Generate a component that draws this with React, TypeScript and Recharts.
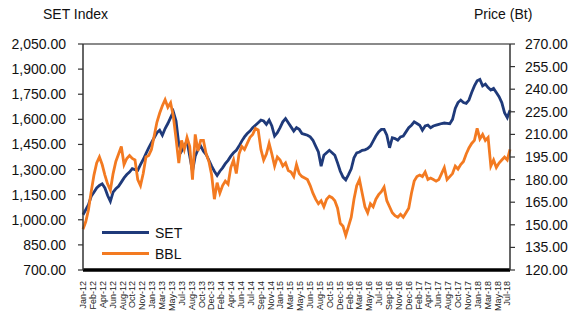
import { LineChart, Line, XAxis, YAxis, ReferenceLine } from 'recharts';

// half-monthly readings, Jan-12 .. Jul-18
const setIndex = [
  1030, 1060, 1090, 1140, 1165, 1190, 1205, 1215, 1190, 1145,
  1110, 1165, 1185, 1200, 1225, 1250, 1270, 1285, 1305, 1300,
  1295, 1330, 1360, 1395, 1430, 1460, 1490, 1520, 1535, 1505,
  1545, 1575, 1610, 1645, 1590, 1450, 1410, 1440, 1470, 1380,
  1290, 1380, 1420, 1440, 1410, 1390, 1355, 1320, 1290, 1265,
  1290, 1310, 1335, 1355, 1380, 1400, 1415, 1440, 1470, 1495,
  1515, 1530, 1550, 1565, 1580, 1595, 1590, 1570, 1595, 1560,
  1500, 1520, 1550, 1585, 1605, 1580, 1555, 1530, 1550, 1540,
  1515, 1510, 1505, 1495, 1475, 1440, 1405, 1320, 1385, 1400,
  1415, 1400, 1385, 1340, 1290, 1255, 1238, 1270, 1305, 1370,
  1400, 1405, 1415, 1418, 1425, 1440, 1470, 1500, 1525, 1540,
  1540, 1505, 1430, 1490, 1485, 1475, 1495, 1500, 1525, 1550,
  1565, 1585, 1575, 1565, 1535, 1560, 1565, 1550, 1560, 1565,
  1570, 1575, 1578, 1576, 1574, 1600, 1665, 1700, 1715, 1700,
  1695, 1715, 1760, 1800, 1830, 1838, 1800, 1810, 1790, 1775,
  1785, 1760, 1735, 1700, 1640, 1610, 1655,
];

const bblPrice = [
  147, 152, 160, 172, 183, 191, 195, 190, 183, 177,
  173, 184, 192, 197, 202, 190, 194, 196, 194, 193,
  180, 176, 184, 195, 196, 200, 209, 218, 224, 229,
  233, 228, 231, 222, 207, 191, 206, 200, 208, 202,
  180, 210, 199, 206, 206, 197, 192, 183, 167, 178,
  171, 176, 179, 177, 188, 193, 184, 197, 202, 200,
  204, 208, 210, 214, 213, 200, 193, 197, 204, 197,
  189, 195, 193, 189, 191, 186, 185, 182, 190, 184,
  182, 181, 180, 176, 171, 167, 164, 166, 162, 167,
  169, 168, 166, 161, 151, 149, 143, 149, 155, 167,
  176, 180, 171, 162, 158, 164, 162, 167, 170, 172,
  175, 166, 162, 158, 156, 155, 157, 155, 158, 161,
  171, 179, 182, 183, 182, 185, 180, 181, 180, 179,
  180, 184, 188, 180, 182, 184, 189, 187, 190, 192,
  197, 201, 204, 206, 214, 207, 210, 206, 208, 189,
  193, 188, 191, 193, 195, 193, 200,
];

const monthLabels = [
  'Jan-12', 'Feb-12', 'Apr-12', 'Jun-12', 'Aug-12', 'Oct-12', 'Nov-12',
  'Jan-13', 'Mar-13', 'May-13', 'Jul-13', 'Aug-13', 'Oct-13', 'Dec-13',
  'Feb-14', 'Apr-14', 'Jun-14', 'Jul-14', 'Sep-14', 'Nov-14',
  'Jan-15', 'Mar-15', 'May-15', 'Jun-15', 'Aug-15', 'Oct-15', 'Dec-15',
  'Feb-16', 'Mar-16', 'May-16', 'Jul-16', 'Sep-16', 'Nov-16', 'Dec-16',
  'Feb-17', 'Apr-17', 'Jun-17', 'Aug-17', 'Oct-17', 'Nov-17',
  'Jan-18', 'Mar-18', 'May-18', 'Jul-18',
];

const setTicks = [700, 850, 1000, 1150, 1300, 1450, 1600, 1750, 1900, 2050];
const priceTicks = [120, 135, 150, 165, 180, 195, 210, 225, 240, 255, 270];

const FONT = '"Liberation Sans", Arial, sans-serif';
const SET_COLOR = '#1f3a7a';
const BBL_COLOR = '#f37a21';

const data = setIndex.map((v, i) => ({ i, set: v, bbl: bblPrice[i] }));
const lastIdx = data.length - 1;
const labelSpan = lastIdx - 1;
const xTicks = monthLabels.map((_, k) => (k * labelSpan) / (monthLabels.length - 1));

const fmt = (v: number) =>
  v.toLocaleString('en-US', { minimumFractionDigits: 2, maximumFractionDigits: 2 });

function MonthTick(props: any) {
  const { x, y, payload } = props;
  const k = Math.round((payload.value * (monthLabels.length - 1)) / labelSpan);
  return (
    <g transform={`translate(${x},${y + 3})`}>
      <text transform="rotate(-90)" textAnchor="end" dy="0.35em" fontSize={9} fill="#222" fontFamily={FONT}>
        {monthLabels[k]}
      </text>
    </g>
  );
}

function LegendBox() {
  const items = [
    { name: 'SET', color: SET_COLOR },
    { name: 'BBL', color: BBL_COLOR },
  ];
  return (
    <div style={{ position: 'absolute', left: 102, top: 222, fontFamily: FONT, fontSize: 14, color: '#111' }}>
      {items.map((it) => (
        <div key={it.name} style={{ display: 'flex', alignItems: 'center', height: 21 }}>
          <span style={{ display: 'inline-block', width: 47, height: 3, background: it.color, marginRight: 6 }} />
          <span>{it.name}</span>
        </div>
      ))}
    </div>
  );
}

export default function App() {
  return (
    <div style={{ position: 'absolute', left: 0, top: 0, width: 568, height: 311, background: '#fff' }}>
      <div style={{ position: 'absolute', left: 43, top: 6, fontFamily: FONT, fontSize: 14, color: '#111' }}>SET Index</div>
      <div style={{ position: 'absolute', left: 474, top: 6, fontFamily: FONT, fontSize: 14, color: '#111' }}>Price (Bt)</div>
      <LineChart width={568} height={311} data={data} margin={{ top: 44, right: 0, bottom: 0, left: 0 }}>
        <XAxis
          dataKey="i"
          type="number"
          domain={[0, lastIdx]}
          ticks={xTicks}
          interval={0}
          height={41}
          tickLine={false}
          axisLine={{ stroke: '#000', strokeWidth: 3.5 }}
          tick={<MonthTick />}
        />
        <YAxis
          yAxisId="left"
          width={83}
          domain={[700, 2050]}
          ticks={setTicks}
          interval={0}
          tickFormatter={fmt}
          tickSize={5}
          tickMargin={12}
          axisLine={{ stroke: '#333', strokeWidth: 1.5 }}
          tickLine={{ stroke: '#333', strokeWidth: 1.2 }}
          tick={{ fontSize: 14, fill: '#111', fontFamily: FONT }}
        />
        <YAxis
          yAxisId="right"
          orientation="right"
          width={58}
          domain={[120, 270]}
          ticks={priceTicks}
          interval={0}
          tickFormatter={fmt}
          tickSize={5}
          tickMargin={10}
          axisLine={{ stroke: '#333', strokeWidth: 1.5 }}
          tickLine={{ stroke: '#333', strokeWidth: 1.2 }}
          tick={{ fontSize: 14, fill: '#111', fontFamily: FONT, textAnchor: 'start' }}
        />
        <ReferenceLine yAxisId="left" y={2050} stroke="#8a8a8a" strokeWidth={2} />
        <Line
          yAxisId="left"
          dataKey="set"
          name="SET"
          stroke={SET_COLOR}
          strokeWidth={2.8}
          dot={false}
          type="linear"
          isAnimationActive={false}
        />
        <Line
          yAxisId="right"
          dataKey="bbl"
          name="BBL"
          stroke={BBL_COLOR}
          strokeWidth={2.8}
          dot={false}
          type="linear"
          isAnimationActive={false}
        />
      </LineChart>
      <LegendBox />
    </div>
  );
}
